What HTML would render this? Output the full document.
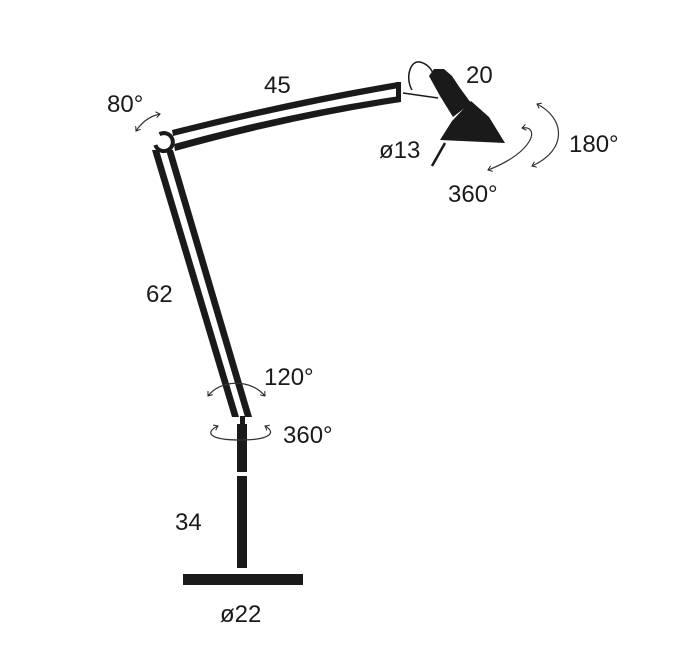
<!DOCTYPE html>
<html><head><style>
html,body{margin:0;padding:0;background:#fff;}
svg{display:block}
text{font-family:"Liberation Sans",sans-serif;font-size:24px;fill:#1a1a1a}
</style></head><body>
<svg width="682" height="652" viewBox="0 0 682 652" xmlns="http://www.w3.org/2000/svg">
<defs>
<marker id="a" markerWidth="8" markerHeight="8" refX="4" refY="4" orient="auto-start-reverse" markerUnits="userSpaceOnUse">
<path d="M0,1 L4,4 L0,7" fill="none" stroke="#222" stroke-width="1"/>
</marker>
</defs>
<g fill="#1a1a1a" stroke="none">
<polygon points="152,150 159,150 239,417 232,417"/>
<polygon points="166,150 173,150 252,417 245,417"/>
<path d="M172,130 Q290,100 398,82 L399,88 Q290,107 173,136 Z"/>
<path d="M174,144 Q290,112 400,96 L401,102 Q290,119 175,151 Z"/>
<rect x="396" y="82" width="5" height="20"/>
<rect x="237" y="424" width="10" height="48"/>
<rect x="240" y="416" width="5" height="8"/>
<rect x="237" y="476" width="10" height="92"/>
<rect x="183" y="574" width="120" height="11"/>
<polygon points="429,76 434,69 444,69 452,76 460,88 471,103 453,117 440,96"/>
<polygon points="471,101 489,117 505,143 440,140 452,121"/>
</g>
<path d="M159.5,134.2 A9,9 0 1 1 155.3,145" fill="none" stroke="#1a1a1a" stroke-width="4"/>
<g fill="none" stroke="#1a1a1a" stroke-width="1.5">
<path d="M403,93 L438,98"/>
<path d="M412,90 C405,78 410,60 420,62 C428,64 432,70 433,74"/>
<path d="M445,143 L432,166" stroke-width="2.5"/>
</g>
<g fill="none" stroke="#333" stroke-width="1.2">
<path d="M537,104 C565,118 568,150 532,166" marker-start="url(#a)" marker-end="url(#a)"/>
<path d="M522,128 C540,125 535,152 488,170" marker-start="url(#a)" marker-end="url(#a)"/>
<path d="M136,131 C142,122 150,116 160,114" marker-start="url(#a)" marker-end="url(#a)"/>
<path d="M208,396 C220,380 250,378 265,396" marker-start="url(#a)" marker-end="url(#a)"/>
<path d="M218,426 C205,432 208,440 240,440 C272,440 276,432 265,426" marker-start="url(#a)" marker-end="url(#a)"/>
</g>
<text x="264" y="93">45</text>
<text x="466" y="83">20</text>
<text x="107" y="112">80°</text>
<text x="379" y="158">ø13</text>
<text x="569" y="152">180°</text>
<text x="448" y="202">360°</text>
<text x="146" y="302">62</text>
<text x="264" y="385">120°</text>
<text x="283" y="443">360°</text>
<text x="175" y="530">34</text>
<text x="220" y="622">ø22</text>
</svg>
</body></html>
